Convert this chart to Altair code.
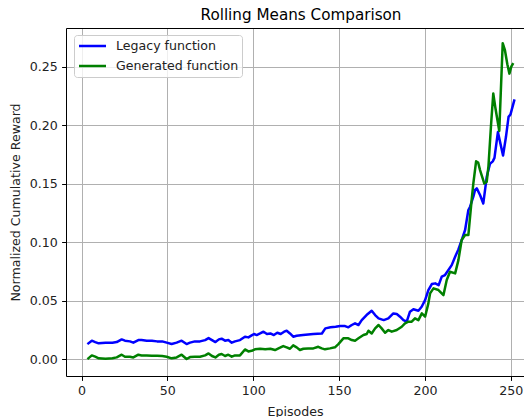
import altair as alt
import pandas as pd

series_names = ["Legacy function", "Generated function"]
series_colors = ["blue", "green"]

legacy_ep = [
    4, 6, 8, 10, 14, 18, 20.5, 23.4, 25.3, 28.2,
    30.2, 33.1, 35, 38, 41, 44, 47, 49.6, 52.5, 55.4,
    58.3, 61.2, 63.2, 66, 69, 72, 74, 76, 78, 80,
    81.6, 83.6, 85.5, 87.5, 89.4, 92.3, 95.2, 97.2, 99.1, 100.5,
    102, 104, 106, 108, 110, 112, 114, 116, 118, 119.5,
    121.4, 123.3, 125.3, 129, 135, 140, 142, 145, 148, 150.6,
    153.5, 155.4, 157.4, 159.3, 161.3, 163.2, 166, 169, 171, 173,
    176, 178.7, 181.6, 183.6, 185.5, 187.5, 189.4, 191.3, 193.3, 196.2,
    198.1, 200.1, 202, 204, 206, 208, 209.8, 211.7, 213.7, 215.6,
    217.6, 219.5, 221.4, 223.4, 225.3, 226.3, 228.2, 229.2, 230.2, 232.1,
    234, 236, 237.9, 239.5, 240.5, 242.5, 245.5, 247.2, 248.7, 249.8,
    252,
]
legacy_val = [
    0.0134, 0.0157, 0.0145, 0.0134, 0.0140, 0.0140, 0.0145, 0.0168, 0.0157, 0.0151,
    0.0140, 0.0162, 0.0162, 0.0157, 0.0157, 0.0151, 0.0151, 0.0140, 0.0128, 0.0140,
    0.0157, 0.0128, 0.0140, 0.0151, 0.0151, 0.0162, 0.0179, 0.0162, 0.0145, 0.0168,
    0.0174, 0.0157, 0.0162, 0.0140, 0.0151, 0.0162, 0.0191, 0.0185, 0.0202, 0.0214,
    0.0205, 0.0219, 0.0234, 0.0214, 0.0219, 0.0205, 0.0225, 0.0214, 0.0234, 0.0242,
    0.0219, 0.0191, 0.0199, 0.0205, 0.0214, 0.0219, 0.0262, 0.0271, 0.0276, 0.0282,
    0.0282, 0.0271, 0.0291, 0.0305, 0.0291, 0.0333, 0.0376, 0.0413, 0.0376, 0.0348,
    0.0333, 0.0348, 0.0390, 0.0385, 0.0362, 0.0333, 0.0319, 0.0405, 0.0425, 0.0413,
    0.0447, 0.0504, 0.0590, 0.0641, 0.0647, 0.0632, 0.0704, 0.0718, 0.0761, 0.0803,
    0.0875, 0.0937, 0.1017, 0.1103, 0.1274, 0.1302, 0.1388, 0.1445, 0.1459, 0.1402,
    0.1330, 0.1558, 0.1670, 0.1690, 0.1720, 0.1940, 0.1740, 0.1900, 0.2070, 0.2090,
    0.2210,
]

generated_ep = [
    4, 6, 8, 10, 14, 18, 20.5, 23.4, 25.3, 28.2,
    30.2, 33.1, 35, 38, 41, 44, 47, 49.6, 52.5, 55.4,
    58.3, 61.2, 63.2, 66, 69, 72, 74, 76, 78, 80,
    81.6, 83.6, 85.5, 87.5, 89.4, 92.3, 95.2, 97.2, 99.1, 101,
    104, 107, 110, 112.7, 115.6, 117.5, 119.5, 121.4, 123.3, 125.3,
    127.2, 129.2, 132, 135, 137.9, 139.9, 141.8, 144.7, 147.6, 149.6,
    152.5, 155.4, 157.4, 159.3, 161.3, 164.2, 166.1, 167.1, 169, 171,
    173, 174.8, 176.8, 178.7, 180.7, 183.6, 186.5, 188.4, 190.4, 192.3,
    194.2, 196.2, 198.2, 200.1, 202, 203, 205, 207.9, 210.8, 212.7,
    214.6, 217.6, 219.5, 221.4, 223.4, 225.3, 227.2, 228.2, 229.8, 231,
    232.1, 234.6, 236, 237, 238.5, 239.8, 241, 243.3, 245.3,
    246.6, 248, 249.2, 250.3, 251.1,
]
generated_val = [
    0.0006, 0.0031, 0.0020, 0.0006, 0.0003, 0.0006, 0.0014, 0.0037, 0.0020, 0.0020,
    0.0014, 0.0037, 0.0031, 0.0031, 0.0029, 0.0029, 0.0026, 0.0020, 0.0006, 0.0014,
    0.0037, 0.0000, 0.0017, 0.0020, 0.0020, 0.0031, 0.0048, 0.0026, 0.0014, 0.0037,
    0.0043, 0.0026, 0.0037, 0.0020, 0.0031, 0.0031, 0.0082, 0.0065, 0.0070, 0.0083,
    0.0088, 0.0083, 0.0088, 0.0077, 0.0097, 0.0111, 0.0100, 0.0088, 0.0117, 0.0100,
    0.0077, 0.0088, 0.0091, 0.0091, 0.0105, 0.0091, 0.0083, 0.0091, 0.0100, 0.0128,
    0.0177, 0.0177, 0.0162, 0.0157, 0.0177, 0.0205, 0.0214, 0.0242, 0.0219, 0.0262,
    0.0291, 0.0262, 0.0225, 0.0248, 0.0234, 0.0248, 0.0276, 0.0305, 0.0319, 0.0319,
    0.0348, 0.0333, 0.0390, 0.0362, 0.0476, 0.0561, 0.0604, 0.0590, 0.0547, 0.0675,
    0.0746, 0.0732, 0.0846, 0.1017, 0.1060, 0.1060, 0.1359, 0.1502, 0.1690, 0.1680,
    0.1615, 0.1500, 0.1516, 0.1650, 0.2000, 0.2270, 0.2150, 0.1950, 0.2700,
    0.2640, 0.2520, 0.2440, 0.2500, 0.2520,
]

x_ticks = [0, 50, 100, 150, 200, 250]
y_ticks = [0.0, 0.05, 0.10, 0.15, 0.20, 0.25]

rows = []
for e, v in zip(legacy_ep, legacy_val):
    rows.append({"Episode": e, "Reward": v, "Series": series_names[0], "order": 0})
for e, v in zip(generated_ep, generated_val):
    rows.append({"Episode": e, "Reward": v, "Series": series_names[1], "order": 1})
df = pd.DataFrame(rows)

FONT = "DejaVu Sans"
x_scale = alt.Scale(domain=[-9.03, 257.7], nice=False, zero=False)
y_scale = alt.Scale(domain=[-0.0145, 0.283], nice=False, zero=False)

lines = alt.Chart(df).mark_line(strokeWidth=2.5, strokeJoin="round", strokeCap="square").encode(
    x=alt.X("Episode:Q", scale=x_scale,
            axis=alt.Axis(values=x_ticks, format="d", title="Episodes", titlePadding=8)),
    y=alt.Y("Reward:Q", scale=y_scale,
            axis=alt.Axis(values=y_ticks, format=".2f", title="Normalized Cumulative Reward",
                          titlePadding=7)),
    color=alt.Color("Series:N",
                    scale=alt.Scale(domain=series_names, range=series_colors),
                    legend=alt.Legend(title=None, orient="none", legendX=8, legendY=7,
                                      symbolType="stroke", symbolSize=729, symbolStrokeWidth=2.5,
                                      labelFont=FONT, labelFontSize=12.6, labelColor="#222",
                                      labelOffset=8.45, padding=3.5, rowPadding=5, clipHeight=15,
                                      fillColor="rgba(255,255,255,0.8)", strokeColor="#cccccc",
                                      cornerRadius=3)),
    order="order:Q",
    detail="Series:N",
)

top = alt.Chart(df).mark_point(opacity=0).encode(
    x=alt.X("Episode:Q", scale=x_scale,
            axis=alt.Axis(orient="top", labels=False, ticks=False, grid=False, domain=True, title=None)),
)

chart = alt.layer(lines, top).resolve_axis(x="independent").properties(
    width=458,
    height=348,
    autosize=alt.AutoSizeParams(type="none"),
    padding={"left": 58, "top": 20, "right": 0, "bottom": 41},
    title=alt.TitleParams("Rolling Means Comparison", font=FONT, fontSize=15.2,
                          fontWeight="normal", color="black", anchor="middle",
                          offset=4.5, dx=6),
).configure_view(stroke=None).configure_axis(
    domainColor="black", domainWidth=1, tickColor="black", tickWidth=1, tickSize=4.4,
    labelPadding=4.4, gridColor="#b0b0b0", gridWidth=1, labelFont=FONT, labelFontSize=12.6,
    labelColor="#222", titleFont=FONT, titleFontSize=12.6, titleColor="#222",
    titleFontWeight="normal", labelFlush=False,
)

chart.save("out.html", embed_options={"renderer": "svg", "actions": False})
